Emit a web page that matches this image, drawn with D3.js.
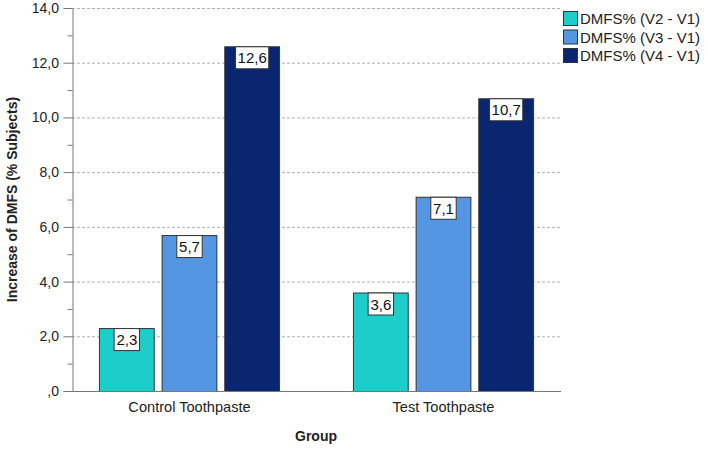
<!DOCTYPE html>
<html><head><meta charset="utf-8">
<script src="https://cdn.jsdelivr.net/npm/d3@7"></script>
<style>body{margin:0;background:#fff}svg{display:block;font-family:"Liberation Sans",Arial,sans-serif}</style>
</head><body><svg id="c" width="708" height="449"></svg>
<script>
const groups = ["Control Toothpaste", "Test Toothpaste"];
const seriesNames = ["DMFS% (V2 - V1)", "DMFS% (V3 - V1)", "DMFS% (V4 - V1)"];
const v2 = [2.3, 3.6];
const v3 = [5.7, 7.1];
const v4 = [12.6, 10.7];
const colors = ["#1dcdc9", "#5596e3", "#0b2670"];
const yTicks = [0, 2, 4, 6, 8, 10, 12, 14];
const series = [v2, v3, v4];

const svg = d3.select("#c");
const L = 72, R = 561, T = 8, B = 391;
const y = d3.scaleLinear().domain([0, 14]).range([B, T]);
const x = d3.scaleBand().domain(groups).range([L, R]).paddingInner(0.287).paddingOuter(0.106);
const x1 = d3.scaleBand().domain(d3.range(3)).range([0, x.bandwidth()]).paddingInner(0.11);
const fmt = v => v === 0 ? ",0" : d3.format(".1f")(v).replace(".", ",");

// gridlines
svg.append("g").selectAll("line").data(yTicks.filter(d => d > 0)).join("line")
  .attr("x1", L).attr("x2", R).attr("y1", d => y(d) + 0.5).attr("y2", d => y(d) + 0.5)
  .attr("stroke", "#b0b0b0").attr("stroke-dasharray", "3,2").attr("stroke-width", 1);

// y axis
const ya = svg.append("g").attr("transform", `translate(${L + 0.5},0)`)
  .call(d3.axisLeft(y).tickValues(d3.range(0, 15, 1)).tickSize(0).tickFormat(""));
ya.select(".domain").attr("stroke", "#777");
ya.selectAll(".tick line").attr("x2", d => d % 2 === 0 ? -9 : -5).attr("stroke", "#777");
ya.selectAll(".tick text").remove();
svg.append("g").selectAll("text").data(yTicks).join("text")
  .attr("x", 59).attr("y", d => y(d) + 5).attr("text-anchor", "end")
  .attr("font-size", 14).attr("fill", "#222").text(fmt);

// bars
const gs = svg.append("g").selectAll("g").data(groups).join("g")
  .attr("transform", d => `translate(${x(d)},0)`);
gs.each(function (g, gi) {
  const sel = d3.select(this);
  series.forEach((s, si) => {
    const v = s[gi];
    sel.append("rect").attr("x", x1(si) + 0.5).attr("y", y(v) + 0.5)
      .attr("width", x1.bandwidth() - 1).attr("height", B - y(v))
      .attr("fill", colors[si]).attr("stroke", "#333").attr("stroke-width", 1);
  });
  series.forEach((s, si) => {
    const v = s[gi];
    const txt = fmt(v);
    const w = txt.length * 7.8 + 2;
    const cx = x1(si) + x1.bandwidth() / 2;
    sel.append("rect").attr("x", cx - w / 2).attr("y", y(v) + 0.5).attr("width", w).attr("height", 22)
      .attr("fill", "#fff").attr("stroke", "#333").attr("stroke-width", 1);
    sel.append("text").attr("x", cx).attr("y", y(v) + 17).attr("text-anchor", "middle")
      .attr("font-size", 15).attr("fill", "#111").text(txt);
  });
});

// x axis line
svg.append("line").attr("x1", L).attr("x2", R).attr("y1", B + 0.5).attr("y2", B + 0.5).attr("stroke", "#777");
svg.append("g").selectAll("text").data(groups).join("text")
  .attr("x", d => x(d) + x.bandwidth() / 2).attr("y", 412).attr("text-anchor", "middle")
  .attr("font-size", 14.6).attr("fill", "#222").text(d => d);

// axis titles
svg.append("text").attr("x", 316).attr("y", 441).attr("text-anchor", "middle")
  .attr("font-size", 14).attr("font-weight", "bold").attr("fill", "#222").text("Group");
svg.append("text").attr("transform", `translate(17,${(T + B) / 2}) rotate(-90)`).attr("text-anchor", "middle")
  .attr("font-size", 14).attr("font-weight", "bold").attr("fill", "#222").text("Increase of DMFS (% Subjects)");

// legend
const lg = svg.append("g").selectAll("g").data(seriesNames).join("g")
  .attr("transform", (d, i) => `translate(563,${11 + i * 18.5})`);
lg.append("rect").attr("x", 0.5).attr("y", 0.5).attr("width", 14).attr("height", 14)
  .attr("fill", (d, i) => colors[i]).attr("stroke", "#333");
lg.append("text").attr("x", 17).attr("y", 13).attr("font-size", 15).attr("fill", "#222").text(d => d);
</script></body></html>
